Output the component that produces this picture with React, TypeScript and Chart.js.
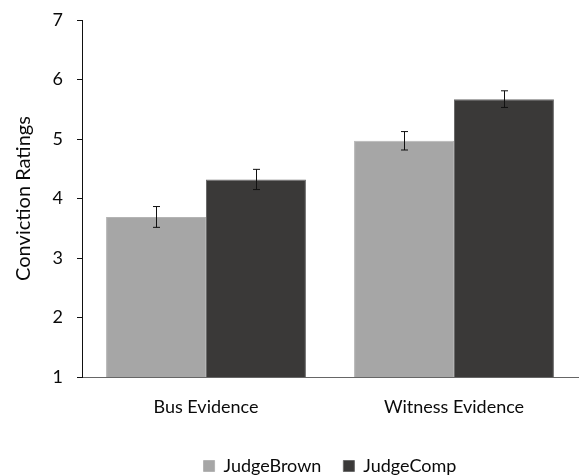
import React, { useEffect, useRef } from "react";
import { Chart, registerables } from "chart.js";

Chart.register(...registerables);

const categories = ["Bus Evidence", "Witness Evidence"];
const seriesNames = ["JudgeBrown", "JudgeComp"];
const judgeBrown = [3.69, 4.97];
const judgeComp = [4.32, 5.67];
const judgeBrownErr = [0.175, 0.155];
const judgeCompErr = [0.17, 0.14];
const yTicks = [1, 2, 3, 4, 5, 6, 7];

const FONT = "Lato, 'Open Sans', sans-serif";
const TEXT = "#0a0a0a";

const errorBarPlugin = {
  id: "errorBars",
  afterDatasetsDraw(chart: any) {
    const ctx = chart.ctx;
    const yScale = chart.scales.y;
    const errs = [judgeBrownErr, judgeCompErr];
    chart.data.datasets.forEach((ds: any, di: number) => {
      const meta = chart.getDatasetMeta(di);
      meta.data.forEach((bar: any, i: number) => {
        const v = ds.data[i];
        const e = errs[di][i];
        const x = Math.round(bar.x) + 0.5;
        const yTop = yScale.getPixelForValue(v + e);
        const yBot = yScale.getPixelForValue(v - e);
        ctx.save();
        ctx.strokeStyle = "#111";
        ctx.lineWidth = 1;
        ctx.beginPath();
        ctx.moveTo(x, yTop);
        ctx.lineTo(x, yBot);
        ctx.moveTo(x - 3.5, yTop);
        ctx.lineTo(x + 3.5, yTop);
        ctx.moveTo(x - 3.5, yBot);
        ctx.lineTo(x + 3.5, yBot);
        ctx.stroke();
        ctx.restore();
      });
    });
  },
};

// Center the legend under the plot area rather than the whole canvas
const legendShiftPlugin = {
  id: "legendShift",
  afterLayout(chart: any) {
    const lg = chart.legend;
    const ca = chart.chartArea;
    if (lg && ca) {
      lg.left = ca.left;
      lg.right = ca.right;
      lg.width = ca.right - ca.left;
    }
  },
};

export default function App() {
  const canvasRef = useRef<HTMLCanvasElement | null>(null);

  useEffect(() => {
    document.body.style.margin = "0";
    const canvas = canvasRef.current;
    if (!canvas) return;
    const chart = new Chart(canvas, {
      type: "bar",
      data: {
        labels: categories,
        datasets: [
          {
            label: seriesNames[0],
            data: judgeBrown,
            backgroundColor: "#a6a6a6",
            borderColor: "#b4b4b4",
            borderWidth: 1,
            categoryPercentage: 0.806,
            barPercentage: 1.0,
          },
          {
            label: seriesNames[1],
            data: judgeComp,
            backgroundColor: "#3a3938",
            borderColor: "#6a6a6a",
            borderWidth: 1,
            categoryPercentage: 0.806,
            barPercentage: 1.0,
          },
        ],
      },
      options: {
        responsive: false,
        animation: false,
        maintainAspectRatio: false,
        layout: { padding: { top: 20, right: 3, left: 0, bottom: 0 } },
        plugins: {
          tooltip: { enabled: false },
          legend: {
            position: "bottom",
            labels: {
              color: TEXT,
              font: { family: FONT, size: 18 },
              boxWidth: 11,
              boxHeight: 11,
              padding: 22,
            },
          },
        },
        scales: {
          x: {
            grid: { display: false, drawTicks: false },
            border: { display: true, color: "#666", width: 1 },
            ticks: {
              color: TEXT,
              font: { family: FONT, size: 18 },
              padding: 19,
            },
            afterFit(scale: any) {
              scale.height = 58;
            },
          },
          y: {
            min: 1,
            max: 7,
            afterBuildTicks(scale: any) {
              scale.ticks = yTicks.map((v) => ({ value: v }));
            },
            grid: {
              drawOnChartArea: false,
              drawTicks: true,
              tickLength: 5,
              color: "#111",
            },
            border: { display: true, color: "#111", width: 1 },
            ticks: {
              color: TEXT,
              font: { family: FONT, size: 18, lineHeight: 0.6 },
              padding: 14,
            },
            title: {
              display: true,
              text: "Conviction Ratings",
              color: TEXT,
              font: { family: FONT, size: 20 },
              padding: { top: 12, bottom: 0 },
            },
            afterFit(scale: any) {
              scale.width = 82;
            },
          },
        },
      },
      plugins: [errorBarPlugin, legendShiftPlugin],
    });
    return () => chart.destroy();
  }, []);

  return (
    <div style={{ width: 581, height: 475, position: "relative", overflow: "hidden" }}>
      <canvas ref={canvasRef} width={581} height={485} />
    </div>
  );
}
